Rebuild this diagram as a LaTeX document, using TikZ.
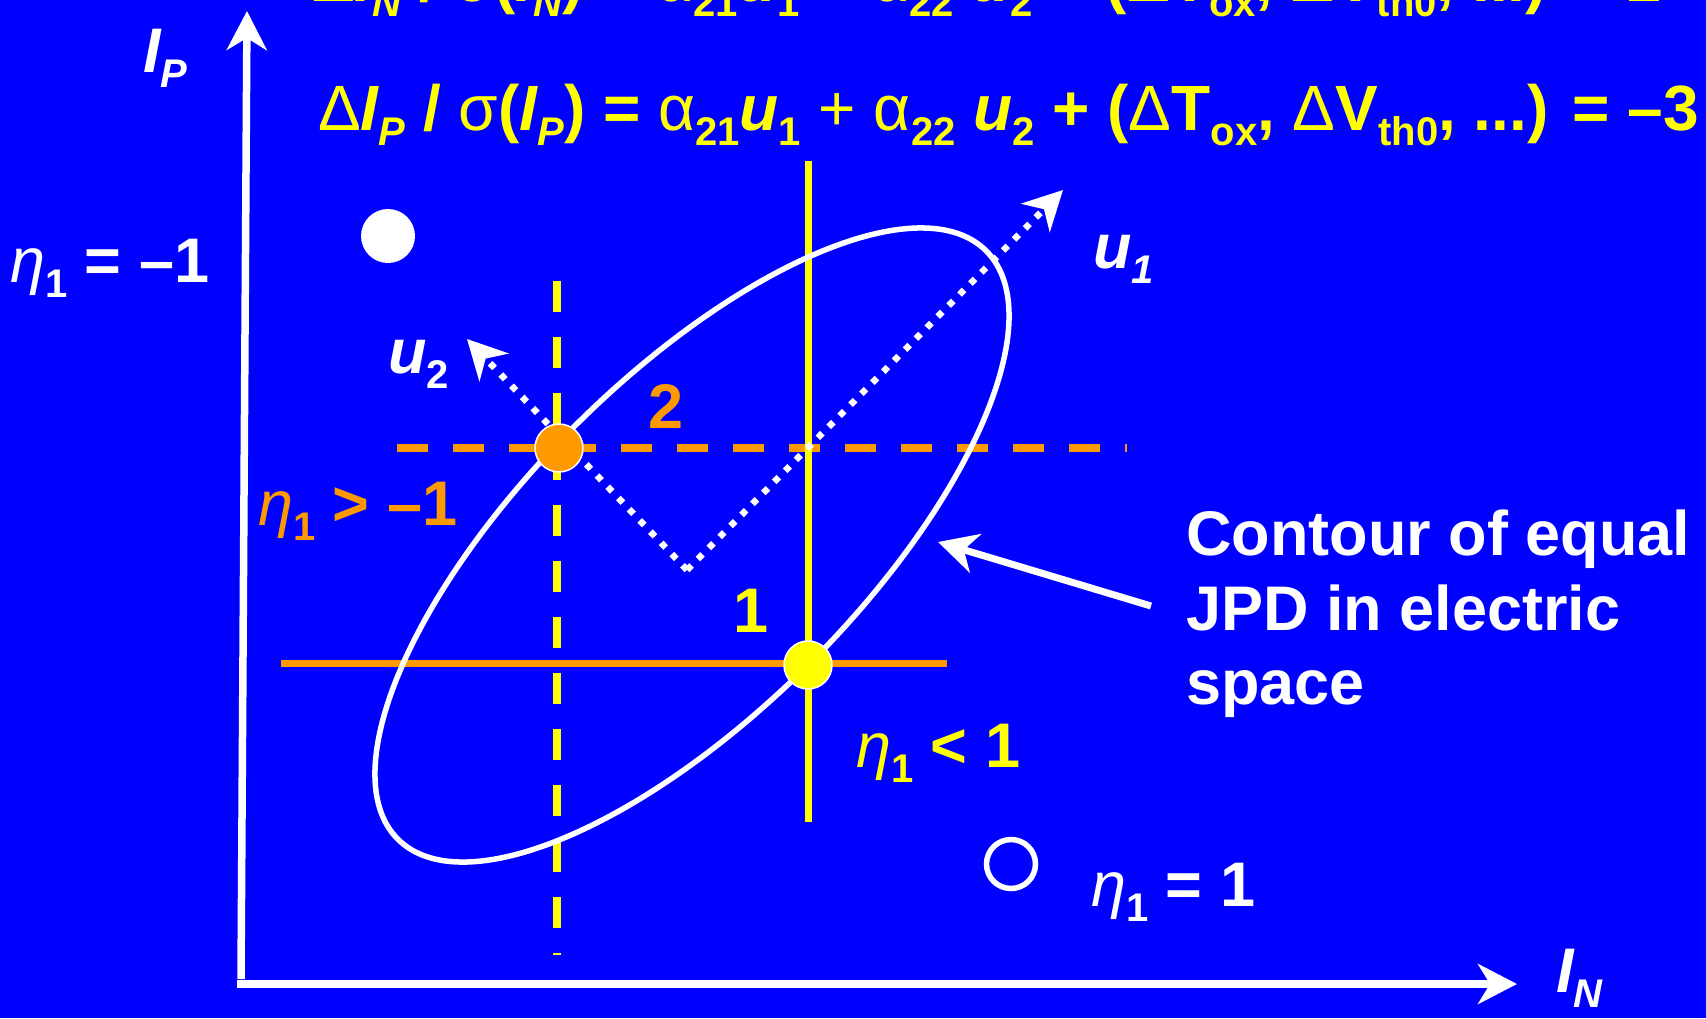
\documentclass[tikz,border=0pt]{standalone}
\usepackage{fontspec}
\setmainfont{Liberation Sans}
\usetikzlibrary{arrows.meta}
\definecolor{bg}{RGB}{0,0,255}
\definecolor{yel}{RGB}{255,255,0}
\definecolor{org}{RGB}{255,153,0}
\newcommand\sbs[1]{\raisebox{-0.24em}{\fontsize{40}{40}\selectfont #1}}
\newcommand\bi[1]{{\itshape #1}}
\newcommand\gr[1]{{\mdseries #1}}
\newcommand\etag{{\mdseries\itshape η}}
\tikzset{
  lbl/.style={inner sep=0pt, anchor=base west, font=\fontsize{63}{63}\selectfont\bfseries},
  eqn/.style={lbl, font=\fontsize{64}{64}\selectfont\bfseries},
  tip/.style={-{Stealth[length=39pt,width=40pt,inset=12pt]}},
  axis/.style={white, line width=7.5pt, tip},
  dotline/.style={white, line width=6.5pt, dash pattern=on 6.5pt off 9pt, tip},
  dashy/.style={line width=7.5pt, dash pattern=on 31pt off 25pt},
  solidl/.style={line width=7pt},
  pt/.style={circle, inner sep=0pt, minimum size=48pt, draw=white, line width=1.5pt}
}
\begin{document}
\begin{tikzpicture}[x=1pt,y=-1pt]
\fill[bg] (0,0) rectangle (1706,1018);
\useasboundingbox (0,0) rectangle (1706,1018);
% axes
\coordinate (Ybot) at (241,979);
\coordinate (Ytop) at (247,11);
\coordinate (Xl) at (237,984);
\coordinate (Xr) at (1517,984);
\draw[axis] (Ybot) -- (Ytop);
\draw[axis] (Xl) -- (Xr);
% dashed lines
\draw[dashy, yel] (557,281) -- (557,955);
\draw[dashy, org] (397,448) -- (1127,448);
% solid lines
\draw[solidl, yel] (808,161) -- (808,822);
\draw[solidl, org] (281,663) -- (947,663);
% dotted axes u1 u2
\coordinate (V) at (687,570);
\coordinate (U1) at (1063,190);
\coordinate (U2) at (467,339);
\draw[dotline] (V) -- (U1);
\draw[dotline] (V) -- (U2);
% ellipse
\draw[white, line width=5.5pt, rotate around={45:(692,545)}] (692,545) ellipse [x radius=416pt, y radius=167pt];
% arrow to contour
\coordinate (ArS) at (1151,606);
\coordinate (ArT) at (938,542);
\draw[white, line width=7pt, tip] (ArS) -- (ArT);
% points
\node[pt, fill=org] (P2) at (559,448) {};
\node[pt, fill=yel] (P1) at (808,665) {};
\node[circle, inner sep=0pt, minimum size=54pt, fill=white] (Dfull) at (388,236) {};
\node[circle, inner sep=0pt, minimum size=49pt, draw=white, line width=5.5pt] (Dempty) at (1011,864) {};
% equations
\node[eqn, yel, overlay] (eqN) at (312,1.5) {\gr{Δ}\bi{I}\sbs{\bi{N}} / \gr{σ}(\bi{I}\sbs{\bi{N}}) = \gr{α}\sbs{21}\bi{u}\sbs{1} \gr{+} \gr{α}\sbs{22} \bi{u}\sbs{2} + (\gr{Δ}T\sbs{ox}, \gr{Δ}V\sbs{th0}, ...) = 1};
\node[eqn, yel] (eqP) at (318,130) {\gr{Δ}\bi{I}\sbs{\bi{P}} / \gr{σ}(\bi{I}\sbs{\bi{P}}) = \gr{α}\sbs{21}\bi{u}\sbs{1} \gr{+} \gr{α}\sbs{22} \bi{u}\sbs{2} + (\gr{Δ}T\sbs{ox}, \gr{Δ}V\sbs{th0}, ...) = –3};
% axis labels
\node[lbl, white] (IP) at (143,72) {\bi{I}\sbs{\bi{P}}};
\node[lbl, white] (IN) at (1556,992) {\bi{I}\sbs{\bi{N}}};
\node[lbl, white] (u1) at (1093,268) {\bi{u}\sbs{\bi{1}}};
\node[lbl, white] (u2) at (388,373) {\bi{u}\sbs{2}};
% numbers
\node[lbl, org] (n2) at (648,428) {2};
\node[lbl, yel] (n1) at (733,632) {1};
% eta labels
\node[lbl, white] (em1) at (10,282) {\etag\sbs{1} = –1};
\node[lbl, org] (egt) at (258,525) {\etag\sbs{1} > –1};
\node[lbl, yel] (elt) at (856,767) {\etag\sbs{1} < 1};
\node[lbl, white] (ep1) at (1091,906) {\etag\sbs{1} = 1};
% contour text
\node[lbl, white] (c1) at (1186,555) {Contour of equal};
\node[lbl, white] (c2) at (1186,630) {JPD in electric};
\node[lbl, white] (c3) at (1186,704) {space};
\end{tikzpicture}
\end{document}
